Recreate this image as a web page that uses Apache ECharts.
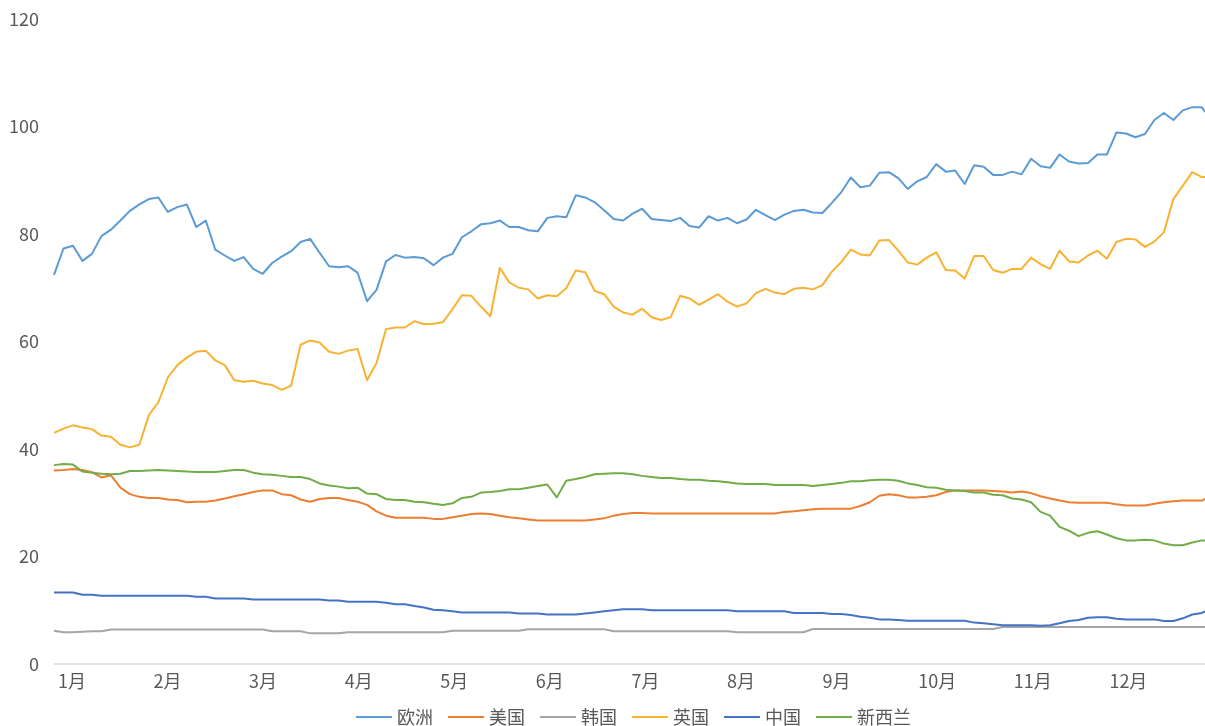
<!DOCTYPE html>
<html>
<head>
<meta charset="utf-8">
<script src="https://cdn.jsdelivr.net/npm/echarts@6/dist/echarts.min.js"></script>
<style>
  html, body { margin: 0; padding: 0; background: #fff; }
  #chart { width: 1205px; height: 726px; }
</style>
</head>
<body>
<div id="chart"></div>
<script>
const months = ['1月', '2月', '3月', '4月', '5月', '6月', '7月', '8月', '9月', '10月', '11月', '12月']
const names = ['欧洲', '美国', '韩国', '英国', '中国', '新西兰']
const colors = ['#5B9BD5', '#ED7D31', '#A5A5A5', '#F8B232', '#4472C4', '#70AD47']

// sample positions along the year (every 3 days, plus the last day)
const days = []
for (let d = 0; d <= 363; d += 3) days.push(d)
days.push(364)

const europe = [
  72.4, 77.3, 77.8, 75.0, 76.3, 79.6, 80.8, 82.5, 84.3, 85.5,
  86.5, 86.8, 84.1, 85.0, 85.5, 81.3, 82.5, 77.1, 76.0, 75.0,
  75.7, 73.5, 72.6, 74.6, 75.8, 76.8, 78.5, 79.1, 76.5, 74.0,
  73.8, 74.0, 72.8, 67.5, 69.6, 74.9, 76.1, 75.6, 75.7, 75.5,
  74.2, 75.6, 76.3, 79.4, 80.5, 81.8, 82.0, 82.5, 81.3, 81.3,
  80.7, 80.5, 83.0, 83.3, 83.1, 87.2, 86.8, 85.9, 84.4, 82.8,
  82.5, 83.8, 84.7, 82.8, 82.6, 82.4, 83.0, 81.5, 81.2, 83.3,
  82.5, 83.0, 82.0, 82.7, 84.5, 83.5, 82.6, 83.6, 84.3, 84.5,
  84.0, 83.9, 85.8, 87.8, 90.5, 88.7, 89.0, 91.4, 91.5, 90.4,
  88.4, 89.8, 90.6, 93.0, 91.6, 91.8, 89.3, 92.8, 92.5, 91.0,
  91.0, 91.6, 91.1, 94.0, 92.6, 92.3, 94.8, 93.5, 93.1, 93.2,
  94.8, 94.8, 98.9, 98.7, 98.0, 98.6, 101.2, 102.5, 101.2, 103.0,
  103.6, 103.6, 102.7
]
const usa = [
  36.0, 36.1, 36.3, 36.1, 35.7, 34.7, 35.1, 32.8, 31.6, 31.1,
  30.9, 30.9, 30.6, 30.5, 30.1, 30.2, 30.2, 30.4, 30.8, 31.2,
  31.6, 32.0, 32.3, 32.3, 31.6, 31.4, 30.6, 30.2, 30.7, 30.9,
  30.9, 30.5, 30.2, 29.6, 28.4, 27.6, 27.2, 27.2, 27.2, 27.2,
  27.0, 27.0, 27.3, 27.6, 27.9, 28.0, 27.9, 27.6, 27.3, 27.1,
  26.9, 26.7, 26.7, 26.7, 26.7, 26.7, 26.7, 26.9, 27.1, 27.6,
  27.9, 28.1, 28.1, 28.0, 28.0, 28.0, 28.0, 28.0, 28.0, 28.0,
  28.0, 28.0, 28.0, 28.0, 28.0, 28.0, 28.0, 28.3, 28.4, 28.6,
  28.8, 28.9, 28.9, 28.9, 28.9, 29.4, 30.1, 31.3, 31.6, 31.4,
  31.0, 31.0, 31.1, 31.4, 32.0, 32.3, 32.3, 32.3, 32.3, 32.2,
  32.1, 31.9, 32.1, 31.8, 31.2, 30.8, 30.4, 30.1, 30.0, 30.0,
  30.0, 30.0, 29.7, 29.5, 29.5, 29.5, 29.8, 30.1, 30.3, 30.4,
  30.4, 30.4, 30.7
]
const korea = [
  6.2, 5.9, 5.9, 6.0, 6.1, 6.1, 6.4, 6.4, 6.4, 6.4,
  6.4, 6.4, 6.4, 6.4, 6.4, 6.4, 6.4, 6.4, 6.4, 6.4,
  6.4, 6.4, 6.4, 6.1, 6.1, 6.1, 6.1, 5.7, 5.7, 5.7,
  5.7, 5.9, 5.9, 5.9, 5.9, 5.9, 5.9, 5.9, 5.9, 5.9,
  5.9, 5.9, 6.2, 6.2, 6.2, 6.2, 6.2, 6.2, 6.2, 6.2,
  6.45, 6.45, 6.45, 6.45, 6.45, 6.45, 6.45, 6.45, 6.45, 6.1,
  6.1, 6.1, 6.1, 6.1, 6.1, 6.1, 6.1, 6.1, 6.1, 6.1,
  6.1, 6.1, 5.9, 5.9, 5.9, 5.9, 5.9, 5.9, 5.9, 5.9,
  6.5, 6.5, 6.5, 6.5, 6.5, 6.5, 6.5, 6.5, 6.5, 6.5,
  6.5, 6.5, 6.5, 6.5, 6.5, 6.5, 6.5, 6.5, 6.5, 6.5,
  6.9, 6.9, 6.9, 6.9, 6.9, 6.9, 6.9, 6.9, 6.9, 6.9,
  6.9, 6.9, 6.9, 6.9, 6.9, 6.9, 6.9, 6.9, 6.9, 6.9,
  6.9, 6.9, 6.9
]
const uk = [
  43.0, 43.8, 44.4, 44.0, 43.7, 42.5, 42.3, 40.8, 40.3, 40.8,
  46.3, 48.7, 53.3, 55.6, 57.0, 58.1, 58.3, 56.5, 55.6, 52.8,
  52.5, 52.7, 52.2, 51.9, 51.0, 51.8, 59.4, 60.2, 59.8, 58.1,
  57.7, 58.3, 58.6, 52.8, 56.0, 62.3, 62.6, 62.6, 63.8, 63.2,
  63.3, 63.6, 66.0, 68.6, 68.5, 66.5, 64.7, 73.7, 71.0, 70.0,
  69.7, 68.0, 68.6, 68.4, 69.9, 73.2, 72.9, 69.4, 68.8, 66.5,
  65.4, 65.0, 66.1, 64.5, 64.0, 64.5, 68.5, 68.0, 66.8, 67.8,
  68.8, 67.4, 66.5, 67.1, 69.0, 69.8, 69.1, 68.8, 69.8, 70.0,
  69.7, 70.5, 73.0, 74.8, 77.1, 76.2, 76.0, 78.8, 78.9, 76.9,
  74.7, 74.3, 75.6, 76.6, 73.3, 73.2, 71.7, 75.9, 75.9, 73.3,
  72.8, 73.5, 73.5, 75.6, 74.4, 73.5, 76.9, 74.9, 74.7, 76.0,
  76.9, 75.4, 78.5, 79.1, 79.0, 77.6, 78.6, 80.3, 86.5, 89.0,
  91.5, 90.6, 90.6
]
const china = [
  13.3, 13.3, 13.3, 12.9, 12.9, 12.7, 12.7, 12.7, 12.7, 12.7,
  12.7, 12.7, 12.7, 12.7, 12.7, 12.5, 12.5, 12.2, 12.2, 12.2,
  12.2, 12.0, 12.0, 12.0, 12.0, 12.0, 12.0, 12.0, 12.0, 11.8,
  11.8, 11.6, 11.6, 11.6, 11.6, 11.4, 11.1, 11.1, 10.8, 10.5,
  10.1, 10.0, 9.8, 9.6, 9.6, 9.6, 9.6, 9.6, 9.6, 9.4,
  9.4, 9.4, 9.2, 9.2, 9.2, 9.2, 9.4, 9.6, 9.8, 10.0,
  10.2, 10.2, 10.2, 10.0, 10.0, 10.0, 10.0, 10.0, 10.0, 10.0,
  10.0, 10.0, 9.8, 9.8, 9.8, 9.8, 9.8, 9.8, 9.5, 9.5,
  9.5, 9.5, 9.3, 9.3, 9.1, 8.8, 8.6, 8.3, 8.3, 8.2,
  8.05, 8.05, 8.05, 8.05, 8.05, 8.05, 8.05, 7.7, 7.6, 7.4,
  7.2, 7.2, 7.2, 7.2, 7.1, 7.2, 7.6, 8.0, 8.2, 8.6,
  8.7, 8.7, 8.4, 8.3, 8.3, 8.3, 8.3, 8.0, 8.0, 8.5,
  9.2, 9.5, 9.8
]
const newZealand = [
  37.0, 37.2, 37.1, 35.8, 35.6, 35.4, 35.3, 35.4, 35.9, 35.9,
  36.0, 36.1, 36.0, 35.9, 35.8, 35.7, 35.7, 35.7, 35.9, 36.1,
  36.1, 35.6, 35.3, 35.2, 35.0, 34.8, 34.8, 34.4, 33.6, 33.2,
  33.0, 32.7, 32.8, 31.7, 31.6, 30.7, 30.5, 30.5, 30.2, 30.1,
  29.8, 29.6, 29.9, 30.9, 31.1, 31.9, 32.0, 32.2, 32.5, 32.5,
  32.8, 33.1, 33.4, 31.0, 34.1, 34.4, 34.8, 35.3, 35.4, 35.5,
  35.5, 35.3, 35.0, 34.8, 34.6, 34.6, 34.4, 34.3, 34.3, 34.1,
  34.0, 33.8, 33.6, 33.5, 33.5, 33.5, 33.3, 33.3, 33.3, 33.3,
  33.1, 33.3, 33.5, 33.7, 34.0, 34.0, 34.2, 34.3, 34.3, 34.1,
  33.6, 33.3, 32.9, 32.8, 32.4, 32.3, 32.2, 31.9, 31.9, 31.5,
  31.4, 30.8, 30.6, 30.1, 28.3, 27.6, 25.5, 24.8, 23.8, 24.4,
  24.7, 24.1, 23.4, 23.0, 23.0, 23.1, 23.0, 22.4, 22.1, 22.1,
  22.6, 23.0, 23.0
]
const seriesData = [europe, usa, korea, uk, china, newZealand]

// month labels sit at even steps along the axis
const monthPos = months.map((m, i) => 0.6 + i * 30.23)

const font = '"Noto Sans CJK SC", "Noto Sans", sans-serif'
const chart = echarts.init(document.getElementById('chart'))
chart.setOption({
  animation: false,
  textStyle: { fontFamily: font },
  grid: { left: 54, right: 0, top: 19, bottom: 62, outerBoundsMode: 'none' },
  legend: {
    data: names,
    left: 351,
    top: 703,
    icon: 'rect',
    itemWidth: 36,
    itemHeight: 2,
    itemGap: 15,
    textStyle: { color: '#595959', fontSize: 18, fontFamily: font }
  },
  xAxis: {
    type: 'value',
    min: 0,
    max: 364,
    axisLine: { lineStyle: { color: '#D9D9D9', width: 1.5 } },
    axisTick: { show: false },
    splitLine: { show: false },
    axisLabel: {
      customValues: monthPos,
      color: '#595959',
      fontSize: 18,
      margin: 8,
      align: 'left',
      padding: [0, 0, 0, 2],
      formatter: (v) => months[Math.round((v - 0.6) / 30.23)] || ''
    }
  },
  yAxis: {
    type: 'value',
    min: 0,
    max: 120,
    interval: 20,
    axisLine: { show: false },
    axisTick: { show: false },
    splitLine: { show: false },
    axisLabel: { color: '#595959', fontSize: 18, margin: 15 }
  },
  series: names.map((name, k) => ({
    name,
    type: 'line',
    symbol: 'none',
    color: colors[k],
    lineStyle: { width: 2, color: colors[k], join: 'round' },
    data: days.map((d, i) => [d, seriesData[k][i]])
  }))
})
</script>
</body>
</html>
